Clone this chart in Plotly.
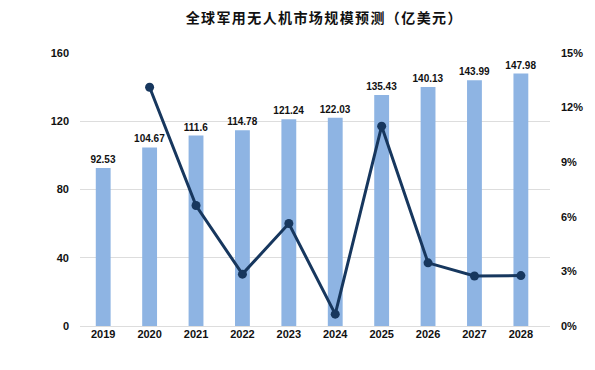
import plotly.graph_objects as go

years = ["2019", "2020", "2021", "2022", "2023", "2024", "2025", "2026", "2027", "2028"]
market = [92.53, 104.67, 111.6, 114.78, 121.24, 122.03, 135.43, 140.13, 143.99, 147.98]
growth_years = ["2020", "2021", "2022", "2023", "2024", "2025", "2026", "2027", "2028"]
growth = [0.1312, 0.0662, 0.0285, 0.0563, 0.0065, 0.1098, 0.0347, 0.0275, 0.0277]
title = "全球军用无人机市场规模预测（亿美元）"

fig = go.Figure()
fig.add_trace(go.Bar(
    x=years, y=market, width=0.32,
    marker=dict(color="#8EB4E3", line=dict(width=0)),
    text=[str(v) for v in market], textposition="outside", constraintext="none",
    textfont=dict(family="Liberation Sans, Arial", size=10, color="#111111", weight="bold"),
    cliponaxis=False, showlegend=False,
))
fig.add_trace(go.Scatter(
    x=growth_years, y=growth, yaxis="y2", mode="lines+markers",
    line=dict(color="#17375E", width=3),
    marker=dict(color="#17375E", size=9),
    showlegend=False, cliponaxis=False,
))

tickfont = dict(family="Liberation Sans, Arial", size=11, color="#111111", weight="bold")
fig.update_layout(
    width=595, height=370,
    margin=dict(l=80, r=45, t=53, b=44, autoexpand=False),
    paper_bgcolor="white", plot_bgcolor="white",
    title=dict(text=title, x=0.545, xanchor="center", y=0.95, yanchor="middle",
               font=dict(family="Noto Sans CJK SC", size=14, color="#111111", weight="bold")),
    xaxis=dict(type="category", showgrid=False, tickfont=tickfont, ticks="",
               showline=False, zeroline=False, automargin=False),
    yaxis=dict(range=[0, 160], dtick=40, showgrid=True, gridcolor="#DDDDDD", gridwidth=1,
               zeroline=True, zerolinecolor="#DDDDDD", zerolinewidth=1, automargin=False,
               tickfont=tickfont, ticks="", ticklabelstandoff=10),
    yaxis2=dict(range=[0, 0.15], dtick=0.03, tickformat=".0%", overlaying="y", side="right",
                showgrid=False, zeroline=False, tickfont=tickfont, ticks="", automargin=False,
                ticklabelstandoff=10),
    bargap=0.68,
)
fig.write_html(
    "out.html", config={"displayModeBar": False},
    post_script=(
        "document.body.style.margin='0';document.body.style.overflow='hidden';"
        "document.querySelectorAll('.gtitle').forEach(function(t){t.style.letterSpacing='1.4px';});"
    ),
)
